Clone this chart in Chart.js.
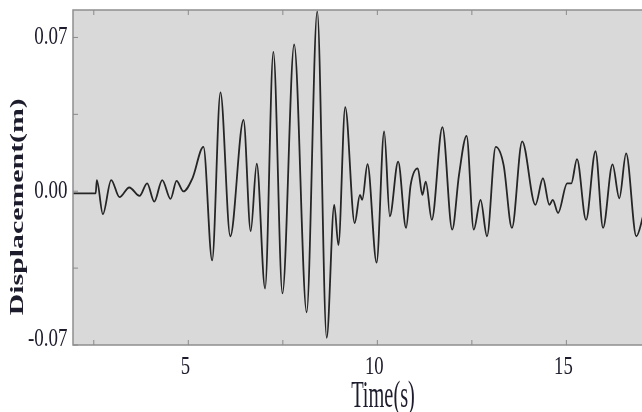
<!DOCTYPE html>
<html>
<head>
<meta charset="utf-8">
<script src="https://cdn.jsdelivr.net/npm/chart.js@4/dist/chart.umd.min.js"></script>
<style>
  html, body { margin: 0; padding: 0; background: #fff; overflow: hidden; }
  #wrap { position: relative; width: 642px; height: 412px; }
</style>
</head>
<body>
<div id="wrap"><canvas id="disp"></canvas></div>
<script>
/****************** DATA **********************/

// time (s) of each turning point of the trace
var timeS = [1.95, 2.55, 2.58, 2.74, 2.96, 3.18, 3.44, 3.71, 3.91, 4.10, 4.31, 4.53, 4.69, 4.87,
    5.11, 5.40, 5.63, 5.85, 6.11, 6.46, 6.65, 6.81, 7.03, 7.25, 7.49, 7.80, 8.13, 8.41, 8.66,
    8.86, 8.97, 9.15, 9.40, 9.54, 9.60, 9.74, 9.98, 10.18, 10.33, 10.55, 10.76, 10.88, 11.07,
    11.19, 11.28, 11.44, 11.72, 11.98, 12.16, 12.36, 12.55, 12.73, 12.90, 13.13, 13.34, 13.56,
    13.83, 14.18, 14.38, 14.55, 14.64, 14.78, 15.02, 15.13, 15.28, 15.52, 15.77, 15.97, 16.22,
    16.40, 16.58, 16.85, 17.05];

// displacement (m) at those times
var displacement = [-0.001, -0.001, 0.0051, -0.0104, 0.0051, -0.0027, 0.0017, -0.0021, 0.0036,
    -0.0047, 0.0051, -0.0035, 0.0047, -0.0001, 0.0059, 0.0202, -0.0315, 0.0450, -0.0205, 0.0325,
    -0.0182, 0.0125, -0.0443, 0.0634, -0.0465, 0.0668, -0.0551, 0.0819, -0.0667, -0.0062, -0.0245,
    0.0383, -0.0145, -0.0017, -0.0039, 0.0123, -0.0325, 0.0272, -0.0114, 0.0135, -0.0167, 0.0028,
    0.0104, -0.0017, 0.0044, -0.0130, 0.0292, -0.0175, 0.0074, 0.0252, -0.0175, -0.0039, -0.0205,
    0.0202, 0.0119, -0.0167, 0.0227, -0.0062, 0.0059, -0.0062, -0.0039, -0.0099, 0.0036, 0.0036,
    0.0146, -0.0130, 0.0182, -0.0167, 0.0122, -0.0032, 0.0172, -0.0205, -0.010];

var xTicks = [2.5, 5, 7.5, 10, 12.5, 15, 17.5];
var xLabels = [5, 10, 15];
var yTicks = [-0.07, -0.035, 0, 0.035, 0.07];
var yLabels = [-0.07, 0, 0.07];

var xTitle = 'Time(s)';
var yTitle = 'Displacement(m)';

/****************** FONCTION **********************/

var TEXT_COLOR = '#1c1c2c';
var SERIF = '"Liberation Serif", "Times New Roman", serif';

/** texte compressé horizontalement (le graphique d'origine est écrasé) */
function squeezedText(ctx, text, x, y, font, sx, align)
{
    ctx.save();
    ctx.translate(x, y);
    ctx.scale(sx, 1);
    ctx.font = font;
    ctx.textAlign = align;
    ctx.textBaseline = 'alphabetic';
    ctx.fillStyle = TEXT_COLOR;
    ctx.fillText(text, 0, 0);
    ctx.restore();
}

var plotFrame = {
    id: 'plotFrame',
    beforeDatasetsDraw: function (chart) {
        var a = chart.chartArea, ctx = chart.ctx;
        ctx.save();
        ctx.fillStyle = '#d9d9d9';
        ctx.fillRect(a.left, a.top, a.right - a.left + 2, a.bottom - a.top);
        ctx.restore();
    },
    afterDraw: function (chart) {
        var a = chart.chartArea, ctx = chart.ctx;
        var xs = chart.scales.x, ys = chart.scales.y;

        ctx.save();
        // cadre
        ctx.strokeStyle = '#8e8e8e';
        ctx.lineWidth = 1.5;
        ctx.strokeRect(a.left, a.top, a.right - a.left + 4, a.bottom - a.top);

        // graduations vers l'intérieur
        ctx.strokeStyle = '#8a8a8a';
        ctx.lineWidth = 1;
        ctx.beginPath();
        ys.ticks.forEach(function (t) {
            var py = ys.getPixelForValue(t.value);
            if (py < a.top || py > a.bottom) return;
            ctx.moveTo(a.left, py);
            ctx.lineTo(a.left + 5, py);
        });
        xs.ticks.forEach(function (t) {
            var px = xs.getPixelForValue(t.value);
            if (px < a.left || px > a.right) return;
            ctx.moveTo(px, a.bottom);
            ctx.lineTo(px, a.bottom - 5);
            ctx.moveTo(px, a.top);
            ctx.lineTo(px, a.top + 5);
        });
        ctx.stroke();
        ctx.restore();

        // étiquettes Y
        yLabels.forEach(function (v) {
            var py = Math.min(ys.getPixelForValue(v) - 2, a.bottom - 8);
            squeezedText(ctx, v.toFixed(2), a.left - 5.5, py + 8.8, '26px ' + SERIF, 0.73, 'right');
        });

        // étiquettes X
        xLabels.forEach(function (v) {
            var px = xs.getPixelForValue(v) - 3;
            squeezedText(ctx, String(v), px, a.bottom + 29, '26px ' + SERIF, 0.72, 'center');
        });

        // titre X
        squeezedText(ctx, xTitle, 383, 407, '37px ' + SERIF, 0.55, 'center');

        // titre Y (tourné)
        ctx.save();
        ctx.font = 'bold 30px ' + SERIF;
        var w = ctx.measureText(yTitle).width;
        ctx.translate(22.5, 206.7);
        ctx.rotate(-Math.PI / 2);
        ctx.scale(217 / w, 0.63);
        ctx.textAlign = 'center';
        ctx.textBaseline = 'alphabetic';
        ctx.fillStyle = TEXT_COLOR;
        ctx.fillText(yTitle, 0, 0);
        ctx.restore();
    }
};

function makeDisplacementChart()
{
    var points = timeS.map(function (t, i) {
        return { x: t, y: displacement[i] };
    });

    var ctx = document.getElementById('disp').getContext('2d');
    window.dispChart = new Chart(ctx, {
        type: 'line',
        data: {
            datasets: [{
                data: points,
                borderColor: '#252525',
                borderWidth: 1.8,
                pointRadius: 0,
                fill: false,
                cubicInterpolationMode: 'monotone'
            }]
        },
        options: {
            responsive: true,
            maintainAspectRatio: false,
            animation: false,
            layout: { padding: { top: 10, left: 0, right: 0, bottom: 0 } },
            plugins: {
                legend: { display: false },
                tooltip: { enabled: false }
            },
            scales: {
                x: {
                    type: 'linear',
                    min: 1.95,
                    max: 17,
                    grid: { display: false },
                    border: { display: false },
                    ticks: { display: false },
                    afterBuildTicks: function (scale) {
                        scale.ticks = xTicks.map(function (v) { return { value: v }; });
                    },
                    afterFit: function (scale) { scale.height = 67; }
                },
                y: {
                    min: -0.07,
                    max: 0.0825,
                    grid: { display: false },
                    border: { display: false },
                    ticks: { display: false },
                    afterBuildTicks: function (scale) {
                        scale.ticks = yTicks.map(function (v) { return { value: v }; });
                    },
                    afterFit: function (scale) { scale.width = 73; }
                }
            }
        },
        plugins: [plotFrame]
    });
}

makeDisplacementChart();
</script>
</body>
</html>
